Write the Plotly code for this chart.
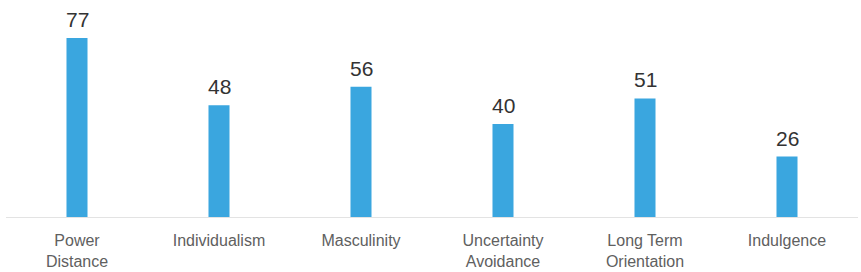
import plotly.graph_objects as go

categories = ["Power<br>Distance", "Individualism", "Masculinity", "Uncertainty<br>Avoidance", "Long Term<br>Orientation", "Indulgence"]
values = [77, 48, 56, 40, 51, 26]

fig = go.Figure(go.Bar(
    x=categories, y=values,
    marker=dict(color="#3aa6df", line=dict(width=0)),
    cliponaxis=False, width=0.148,
))
for c, v in zip(categories, values):
    fig.add_annotation(x=c, y=v, text=str(v), showarrow=False, yanchor="bottom",
                       yshift=5,
                       font=dict(family="Liberation Sans, Arial, sans-serif", size=21, color="#333333"))
fig.update_layout(
    width=861, height=272,
    margin=dict(l=6, r=3, t=20, b=55),
    paper_bgcolor="white", plot_bgcolor="white",
    showlegend=False,
    xaxis=dict(showline=True, linecolor="#e3e3e3", linewidth=1, ticks="", showgrid=False,
               ticklabelstandoff=9,
               tickfont=dict(family="Liberation Sans, Arial, sans-serif", size=16, color="#606060")),
    yaxis=dict(range=[0, 84.7], visible=False, showgrid=False, zeroline=False),
)
fig.write_html("out.html")
